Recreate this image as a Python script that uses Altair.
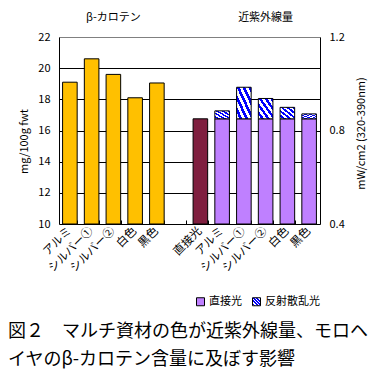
import altair as alt
import pandas as pd

# ---- data ----
beta_keys = ["L0", "L1", "L2", "L3", "L4"]
beta_labels = ["アルミ", "シルバー①", "シルバー②", "白色", "黒色"]
beta_values = [19.1, 20.6, 19.6, 18.1, 19.05]

uv_keys = ["R0", "R1", "R2", "R3", "R4", "R5"]
uv_labels = ["直接光", "アルミ", "シルバー①", "シルバー②", "白色", "黒色"]
uv_direct = [0.85, 0.85, 0.85, 0.85, 0.85, 0.85]
uv_reflect = [0.0, 0.034, 0.135, 0.087, 0.049, 0.021]

parts = ["直接光", "反射散乱光"]
left_ticks = [10, 12, 14, 16, 18, 20, 22]
right_ticks = [0.4, 0.8, 1.2]

caption_lines = ["図２　マルチ資材の色が近紫外線量、モロヘ",
                 "イヤのβ-カロテン含量に及ぼす影響"]

all_keys = beta_keys + ["gap"] + uv_keys
label_map = dict(zip(beta_keys, beta_labels))
label_map.update(dict(zip(uv_keys, uv_labels)))
label_map["gap"] = ""

df_beta = pd.DataFrame({"key": beta_keys, "value": beta_values, "base": 10.0})

rows = []
for k, d, r in zip(uv_keys[1:], uv_direct[1:], uv_reflect[1:]):
    rows.append({"key": k, "part": parts[0], "lo": 0.4, "hi": d})
    rows.append({"key": k, "part": parts[1], "lo": d, "hi": d + r})
df_uv = pd.DataFrame(rows)
df_ref = pd.DataFrame({"key": [uv_keys[0]], "lo": [0.4], "hi": [uv_direct[0]]})

FONT = "Noto Sans CJK JP"
W, H = 261, 187

label_expr = "{" + ",".join(f"'{k}':'{v}'" for k, v in label_map.items()) + "}[datum.value]"

# hatch-like gradient
n = 5
stops = []
for i in range(n):
    a, b, c = i / n, (i + 0.5) / n, (i + 1) / n
    stops += [f"{{offset:{a},color:'#ffffff'}}", f"{{offset:{b},color:'#ffffff'}}",
              f"{{offset:{b},color:'#0000ff'}}", f"{{offset:{c},color:'#0000ff'}}"]
hatch_expr = "{gradient:'linear',x1:0,y1:1,x2:1,y2:0,stops:[" + ",".join(stops) + "]}"

xscale = alt.Scale(domain=all_keys, paddingInner=0.33, paddingOuter=0.165)

x_main = alt.X("key:N", scale=xscale, sort=all_keys,
               axis=alt.Axis(title=None, labelExpr=label_expr, labelAngle=-45,
                             labelAlign="right", labelBaseline="middle",
                             labelPadding=5, labelFontSize=11.5, labelFont=FONT,
                             labelColor="black", ticks=False, domain=False,
                             labelOverlap=False))
x_none = alt.X("key:N", scale=xscale, sort=all_keys, axis=None)

left_y = alt.Scale(domain=[10, 22], zero=False, nice=False)
right_y = alt.Scale(domain=[0.4, 1.2], zero=False, nice=False)

beta_bars = alt.Chart(df_beta).mark_bar(
    color="#ffc000", stroke="black", strokeWidth=1
).encode(
    x=x_main,
    y=alt.Y("value:Q", scale=left_y,
            axis=alt.Axis(title="mg/100g fwt", values=left_ticks, ticks=False,
                          domainColor="black", labelFontSize=11, labelFont=FONT,
                          labelColor="black", labelPadding=9,
                          titleFont=FONT, titleFontSize=11, titleFontWeight="normal",
                          titleColor="black", titlePadding=8, titleY=104,
                          grid=True, gridOpacity=1, gridWidth=1,
                          gridColor=alt.condition("datum.value == 22",
                                                  alt.value("#808080"),
                                                  alt.value("black")))),
    y2="base:Q",
)

ref_bar = alt.Chart(df_ref).mark_bar(
    color="#7f1f3f", stroke="black", strokeWidth=1
).encode(
    x=x_none,
    y=alt.Y("hi:Q", scale=right_y, axis=None),
    y2="lo:Q",
)

uv_bars = alt.Chart(df_uv).mark_bar(stroke="black", strokeWidth=1).encode(
    x=x_none,
    y=alt.Y("hi:Q", scale=right_y,
            axis=alt.Axis(orient="right", title="mW/cm2 (320-390nm)",
                          values=right_ticks, format=".1f", ticks=False,
                          domainColor="black", grid=False,
                          labelFontSize=11, labelFont=FONT, labelColor="black",
                          labelPadding=9, titleFont=FONT, titleFontSize=11,
                          titleFontWeight="normal", titleColor="black",
                          titleAngle=270, titleBaseline="bottom",
                          titlePadding=22, titleY=96)),
    y2="lo:Q",
    color=alt.Color("part:N",
                    scale=alt.Scale(domain=parts,
                                    range=["#bf80ff", alt.ExprRef(hatch_expr)]),
                    legend=alt.Legend(title=None, orient="none", legendX=136,
                                      legendY=259, direction="horizontal",
                                      symbolType="square", symbolSize=64,
                                      symbolStrokeColor="black",
                                      symbolStrokeWidth=1, symbolOpacity=1,
                                      labelFont=FONT, labelFontSize=11,
                                      labelColor="black", columnPadding=8,
                                      labelOffset=3)),
)

tick_axis = alt.Chart(df_beta).mark_bar(opacity=0).encode(
    x=alt.X("key:N", scale=xscale, sort=all_keys,
            axis=alt.Axis(orient="top", title=None, labels=False, domain=False,
                          ticks=True, tickBand="extent", tickSize=4,
                          tickColor="black", offset=-H)),
    y=alt.Y("value:Q", scale=left_y, axis=None),
    y2="base:Q",
)

titles_df = pd.DataFrame({"key": ["L2", "R3"], "txt": ["β-カロテン", "近紫外線量"]})
top_titles = alt.Chart(titles_df).mark_text(
    font=FONT, fontSize=11, color="black", baseline="middle", align="center"
).encode(
    x=x_none, y=alt.value(-19), text="txt:N",
)

caption_df = pd.DataFrame({"txt": caption_lines, "line": [0, 1]})
caption = alt.Chart(caption_df).mark_text(
    font=FONT, fontSize=18, color="black", align="left", baseline="middle"
).encode(
    x=alt.value(-51),
    y=alt.Y("line:Q", scale=alt.Scale(domain=[0, 1], range=[295, 323]), axis=None),
    text="txt:N",
)

chart = alt.layer(
    beta_bars, tick_axis, ref_bar, uv_bars, top_titles, caption
).resolve_scale(
    y="independent"
).resolve_axis(
    x="independent", y="independent"
).properties(
    width=W, height=H,
    autosize=alt.AutoSizeParams(type="none"),
    padding={"left": 51, "top": 29, "right": 50, "bottom": 148},
).configure_view(stroke=None).configure(background="white")

chart.save("out.html", embed_options={"renderer": "svg", "actions": False})
